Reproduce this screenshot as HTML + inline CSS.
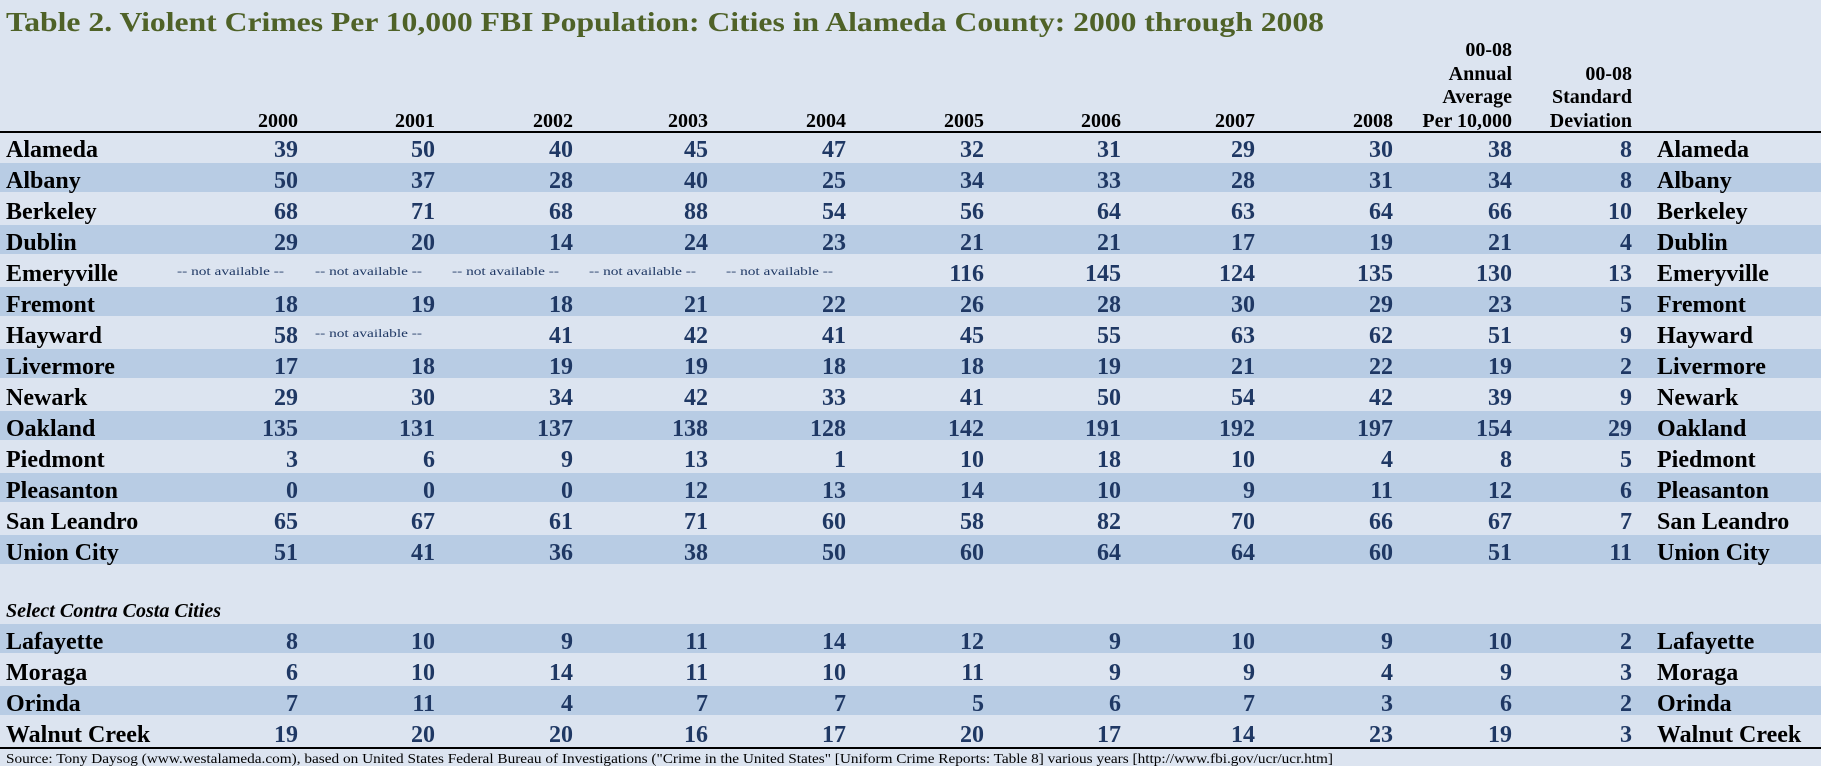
<!DOCTYPE html>
<html><head><meta charset="utf-8"><style>
html,body{margin:0;padding:0;background:#dce4f0;}
svg{display:block}
</style></head><body>
<svg width="1821" height="766" xmlns="http://www.w3.org/2000/svg" font-family="'Liberation Serif', serif">
<rect width="1821" height="766" fill="#dce4f0"/>
<text x="6" y="31" font-size="27" font-weight="bold" fill="#4f6228" textLength="1318" lengthAdjust="spacingAndGlyphs">Table 2. Violent Crimes Per 10,000 FBI Population: Cities in Alameda County: 2000 through 2008</text>
<g font-size="20" font-weight="bold" fill="#000" text-anchor="end">
<text x="298" y="127">2000</text><text x="435" y="127">2001</text><text x="573" y="127">2002</text><text x="708" y="127">2003</text><text x="846" y="127">2004</text><text x="984" y="127">2005</text><text x="1121" y="127">2006</text><text x="1255" y="127">2007</text><text x="1393" y="127">2008</text>
<text x="1512" y="56">00-08</text><text x="1512" y="80">Annual</text><text x="1512" y="103">Average</text><text x="1512" y="127">Per 10,000</text>
<text x="1632" y="80">00-08</text><text x="1632" y="103">Standard</text><text x="1632" y="127">Deviation</text>
</g>
<line x1="0" y1="132" x2="1821" y2="132" stroke="#000" stroke-width="2"/>
<g fill="#b8cce4">
<rect x="0" y="163" width="1821" height="29"/><rect x="0" y="225" width="1821" height="29"/><rect x="0" y="287" width="1821" height="29"/><rect x="0" y="349" width="1821" height="29"/><rect x="0" y="411" width="1821" height="29"/><rect x="0" y="473" width="1821" height="29"/><rect x="0" y="535" width="1821" height="29"/>
<rect x="0" y="624" width="1821" height="29"/><rect x="0" y="686" width="1821" height="29"/>
</g>
<g id="rows" font-size="24" font-weight="bold"></g>
<text x="6" y="617" font-size="20" font-weight="bold" font-style="italic" fill="#000">Select Contra Costa Cities</text>
<line x1="0" y1="748" x2="1821" y2="748" stroke="#000" stroke-width="2"/>
<text x="6" y="763" font-size="14" fill="#000" textLength="1327" lengthAdjust="spacingAndGlyphs">Source: Tony Daysog (www.westalameda.com), based on United States Federal Bureau of Investigations ("Crime in the United States" [Uniform Crime Reports: Table 8] various years [http://www.fbi.gov/ucr/ucr.htm]</text>
</svg>
<script>
var cols=[298,435,573,708,846,984,1121,1255,1393,1512,1632];
var na=[177,315,452,589,726];
var data=[
["Alameda",39,50,40,45,47,32,31,29,30,38,8],
["Albany",50,37,28,40,25,34,33,28,31,34,8],
["Berkeley",68,71,68,88,54,56,64,63,64,66,10],
["Dublin",29,20,14,24,23,21,21,17,19,21,4],
["Emeryville",null,null,null,null,null,116,145,124,135,130,13],
["Fremont",18,19,18,21,22,26,28,30,29,23,5],
["Hayward",58,null,41,42,41,45,55,63,62,51,9],
["Livermore",17,18,19,19,18,18,19,21,22,19,2],
["Newark",29,30,34,42,33,41,50,54,42,39,9],
["Oakland",135,131,137,138,128,142,191,192,197,154,29],
["Piedmont",3,6,9,13,1,10,18,10,4,8,5],
["Pleasanton",0,0,0,12,13,14,10,9,11,12,6],
["San Leandro",65,67,61,71,60,58,82,70,66,67,7],
["Union City",51,41,36,38,50,60,64,64,60,51,11]];
var cc=[
["Lafayette",8,10,9,11,14,12,9,10,9,10,2],
["Moraga",6,10,14,11,10,11,9,9,4,9,3],
["Orinda",7,11,4,7,7,5,6,7,3,6,2],
["Walnut Creek",19,20,20,16,17,20,17,14,23,19,3]];
var g=document.getElementById('rows'),ns="http://www.w3.org/2000/svg";
function t(x,y,s,o){var e=document.createElementNS(ns,'text');e.setAttribute('x',x);e.setAttribute('y',y);for(var k in o)e.setAttribute(k,o[k]);e.textContent=s;g.appendChild(e);}
function row(r,top){var y=top+25;t(6,y,r[0],{fill:'#000'});t(1657,y,r[0],{fill:'#000'});
for(var i=1;i<12;i++){if(r[i]===null){t(na[i-1],top+19,'-- not available --',{'font-size':'12','font-weight':'normal',fill:'#1f3864',textLength:'107',lengthAdjust:'spacingAndGlyphs'});}
else t(cols[i-1],y,r[i],{'text-anchor':'end',fill:'#1f3864'});}}
data.forEach(function(r,i){row(r,132+31*i);});
cc.forEach(function(r,i){row(r,624+31*i);});
</script>
</body></html>
